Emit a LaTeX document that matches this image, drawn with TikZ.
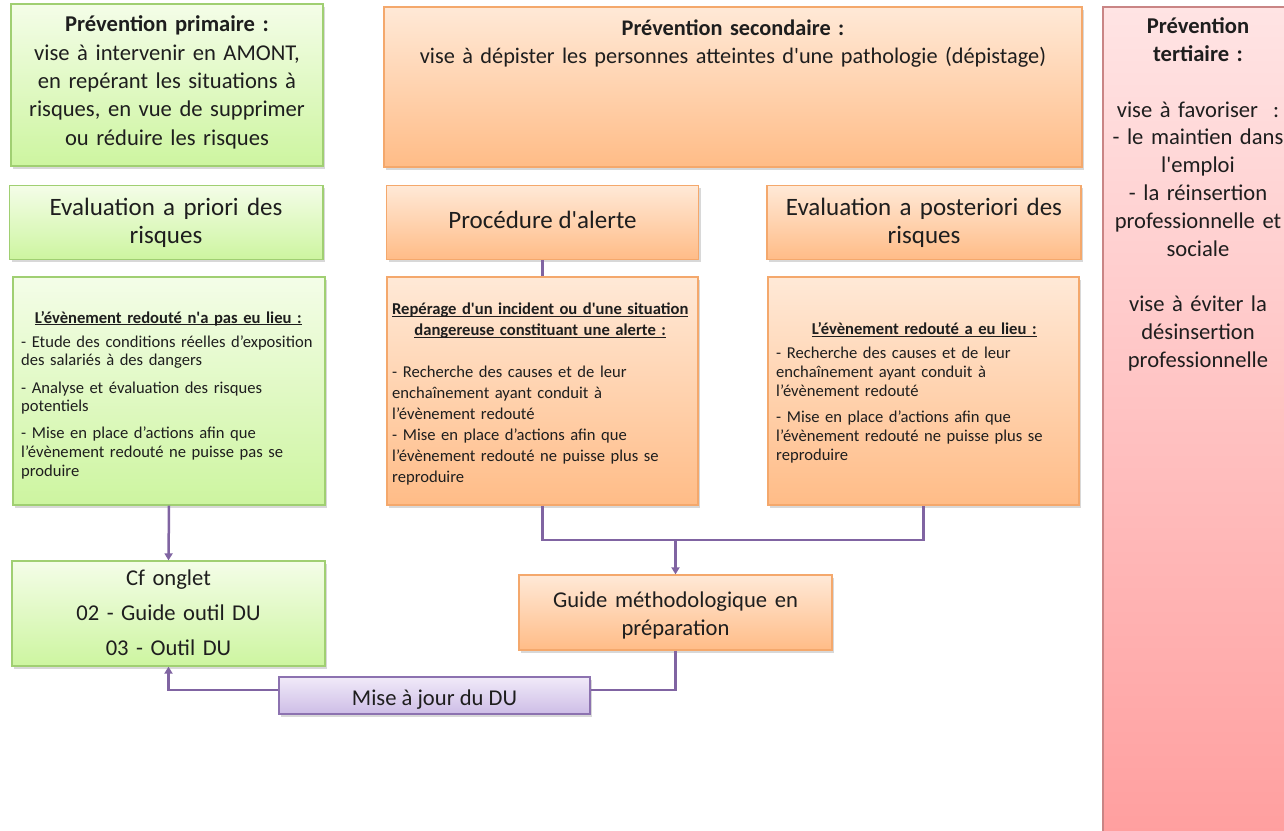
\documentclass[tikz,border=0pt]{standalone}
\usepackage{fontspec}
\setmainfont{Carlito}
\usetikzlibrary{shadows,arrows.meta}
\definecolor{gtop}{HTML}{F4FDE8}
\definecolor{gbot}{HTML}{CDF5A0}
\definecolor{gline}{HTML}{A0CF72}
\definecolor{otop}{HTML}{FFE9D7}
\definecolor{obot}{HTML}{FFBC87}
\definecolor{oline}{HTML}{F4A86C}
\definecolor{ptop}{HTML}{FFE4E4}
\definecolor{pbot}{HTML}{FF9E9E}
\definecolor{pline}{HTML}{C98585}
\definecolor{vtop}{HTML}{F1EAF9}
\definecolor{vbot}{HTML}{CDBDE6}
\definecolor{vline}{HTML}{8C72B0}
\definecolor{conncol}{HTML}{8064A2}
\definecolor{txtcol}{HTML}{1E1E1E}
\newcommand\uln[1]{\sbox0{#1}\rlap{\rule[-2pt]{\wd0}{0.9pt}}\usebox0}
\newcommand\fbig{\fontsize{22.6}{28.35}\selectfont}
\newcommand\flarge{\fontsize{25}{28.3}\selectfont}
\tikzset{
  boxbase/.style={draw, line width=1.3pt, rectangle, inner sep=0pt,
    drop shadow={shadow xshift=2pt, shadow yshift=-2.5pt, opacity=0.3}},
  gbox/.style={boxbase, draw=gline, top color=gtop, bottom color=gbot},
  obox/.style={boxbase, draw=oline, top color=otop, bottom color=obot},
  pinkbox/.style={boxbase, draw=pline, top color=ptop, bottom color=pbot},
  vbox/.style={boxbase, draw=vline, top color=vtop, bottom color=vbot},
  txt/.style={inner sep=0pt, text=txtcol},
  conn/.style={draw=conncol, line width=2.5pt},
  arr/.style={-{Triangle[width=8pt,length=7pt]}}
}
\begin{document}
\begin{tikzpicture}[x=1pt,y=-1pt]
\useasboundingbox (0,0) rectangle (1284,830);
\fill[white] (0,0) rectangle (1284,830);

% boxes
\node[gbox, minimum width=312, minimum height=162] (g1) at (167,85) {};
\node[gbox, minimum width=313.5, minimum height=74] (g2) at (166.3,222.4) {};
\node[gbox, minimum width=312, minimum height=228] (g3) at (169,391) {};
\node[gbox, minimum width=313, minimum height=105] (g4) at (168.5,613.5) {};
\node[obox, minimum width=698, minimum height=160] (o1) at (733,87) {};
\node[obox, minimum width=312, minimum height=74] (o2) at (542.5,222.4) {};
\node[obox, minimum width=314, minimum height=74] (o3) at (924,222.4) {};
\node[obox, minimum width=311, minimum height=228] (o4) at (542.5,391) {};
\node[obox, minimum width=311, minimum height=228] (o5) at (923.5,391) {};
\node[obox, minimum width=313, minimum height=75] (guide) at (675.5,612.5) {};
\node[vbox, minimum width=311, minimum height=37] (maj) at (434.5,695.5) {};
\node[pinkbox, minimum width=192, minimum height=838] (pk) at (1199,426) {};

% texts
\node[txt, text width=312, align=center, anchor=base, font=\fbig] (g1t) at (167,31.9)
  {\textbf{Prévention primaire :}\\vise à intervenir en AMONT,\\en repérant les situations à\\risques, en vue de supprimer\\ou réduire les risques};
\node[txt, text width=310, align=center, anchor=base, font=\flarge] (g2t) at (166,215.5)
  {Evaluation a priori des\\risques};
\node[txt, text width=300, align=left, anchor=base west, font=\fontsize{16.6}{18.6}\selectfont] (g3t) at (21,323.3)
  {\makebox[294pt][c]{\textbf{\uln{L’évènement redouté n\textquotesingle a pas eu lieu :}}}\\[5.4pt]
   - Etude des conditions réelles d’exposition\\des salariés à des dangers\\[8.8pt]
   - Analyse et évaluation des risques\\potentiels\\[8.4pt]
   - Mise en place d’actions afin que\\l’évènement redouté ne puisse pas se\\produire};
\node[txt, text width=310, align=center, anchor=base, font=\fontsize{22.6}{34.65}\selectfont] (g4t) at (168.5,585.7)
  {Cf onglet\\02 - Guide outil DU\\03 - Outil DU};
\node[txt, text width=690, align=center, anchor=base, font=\fontsize{22.3}{28.4}\selectfont] (o1t) at (733,35)
  {\textbf{Prévention secondaire :}\\vise à dépister les personnes atteintes d\textquotesingle une pathologie (dépistage)};
\node[txt, anchor=base, font=\flarge] (o2t) at (542.5,228.8) {Procédure d\textquotesingle alerte};
\node[txt, text width=310, align=center, anchor=base, font=\flarge] (o3t) at (924,215.5)
  {Evaluation a posteriori des\\risques};
\node[txt, text width=306, align=left, anchor=base west, font=\fontsize{16.6}{20.9}\selectfont] (o4t) at (392,314.8)
  {\makebox[296pt][c]{\textbf{\uln{Repérage d\textquotesingle un incident ou d\textquotesingle une situation}}}\\
   \makebox[296pt][c]{\textbf{\uln{dangereuse constituant une alerte :}}}\\[20.9pt]
   - Recherche des causes et de leur\\enchaînement ayant conduit à\\l’évènement redouté\\
   - Mise en place d’actions afin que\\l’évènement redouté ne puisse plus se\\reproduire};
\node[txt, text width=300, align=left, anchor=base west, font=\fontsize{16.6}{19}\selectfont] (o5t) at (776,334.8)
  {\makebox[296pt][c]{\textbf{\uln{L’évènement redouté a eu lieu :}}}\\[4.4pt]
   - Recherche des causes et de leur\\enchaînement ayant conduit à\\l’évènement redouté\\[7.7pt]
   - Mise en place d’actions afin que\\l’évènement redouté ne puisse plus se\\reproduire};
\node[txt, text width=310, align=center, anchor=base, font=\fontsize{22.6}{27.7}\selectfont] (guidet) at (675.5,607.4)
  {Guide méthodologique en\\préparation};
\node[txt, anchor=base, font=\fbig] (majt) at (434.5,705.1) {Mise à jour du DU};
\node[txt, text width=200, align=center, anchor=base, font=\fontsize{22.6}{27.8}\selectfont] (pkt) at (1198,33.6)
  {\textbf{Prévention}\\\textbf{tertiaire :}\\[27.8pt]
   vise à favoriser\ \ :\\- le maintien dans\\l\textquotesingle emploi\\- la réinsertion\\professionnelle et\\sociale\\[27.8pt]
   vise à éviter la\\désinsertion\\professionnelle};

% connectors
\coordinate (lvl) at (0,540);
\coordinate (lvlb) at (0,690);
\draw[conn, arr] (g3.south) -- (g4.north);
\draw[conn] (o2.south) -- (o4.north);
\draw[conn] (o4.south) |- (o5.south |- lvl) -- (o5.south);
\draw[conn, arr] (guide.north |- lvl) -- (guide.north);
\draw[conn] (guide.south) |- (maj.east |- lvlb);
\draw[conn, arr] (maj.west |- lvlb) -| (g4.south);
\end{tikzpicture}
\end{document}
